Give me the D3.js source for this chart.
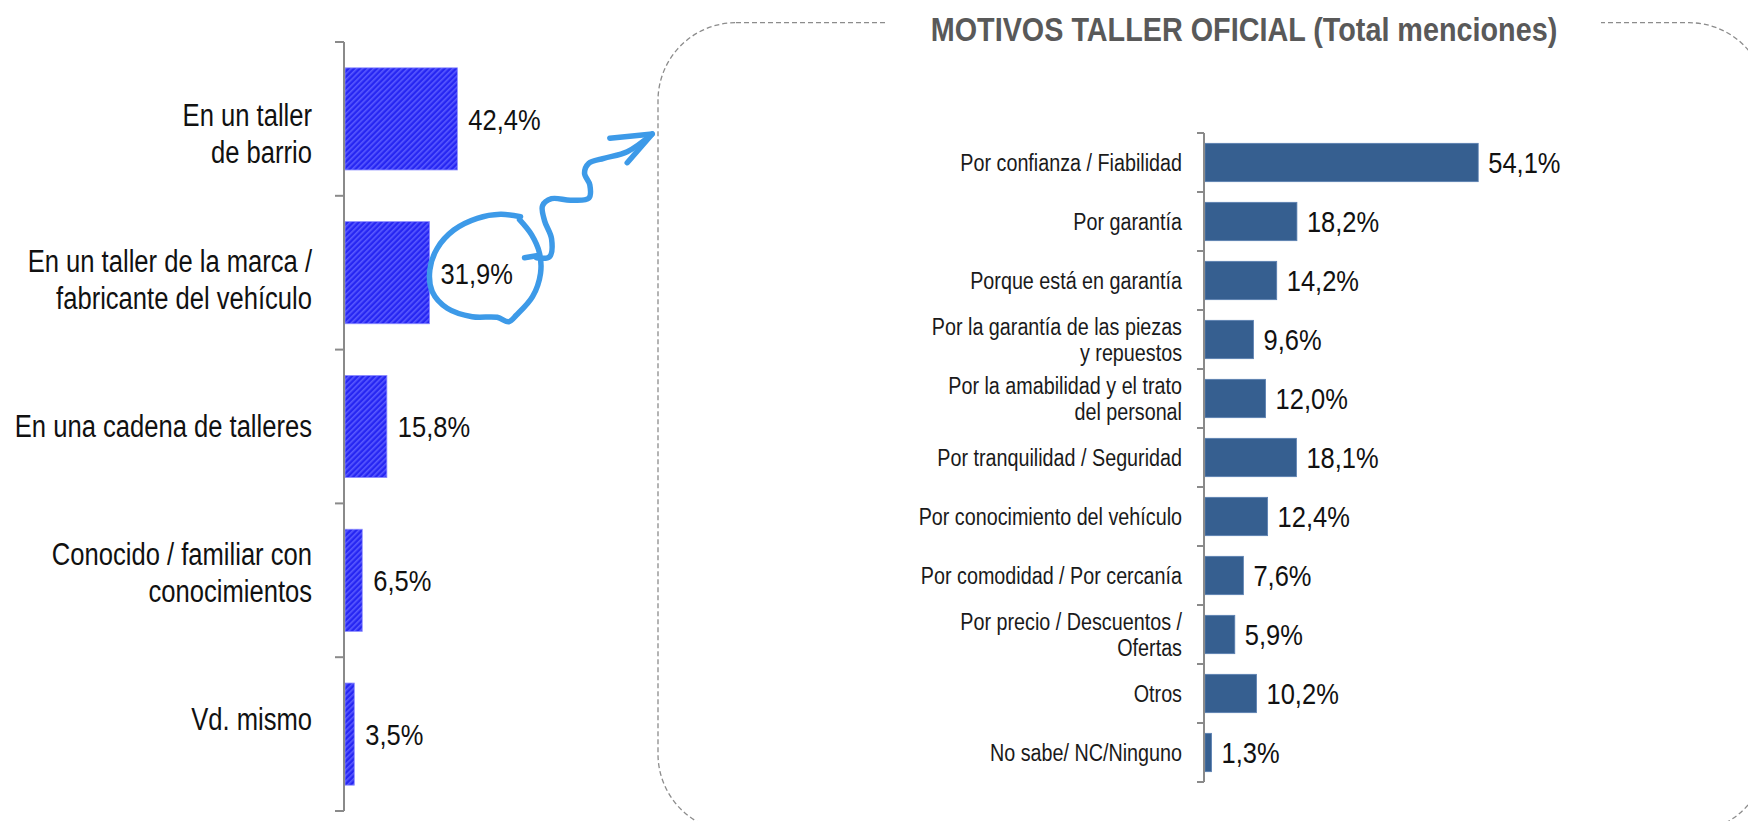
<!DOCTYPE html>
<html>
<head>
<meta charset="utf-8">
<script src="https://cdn.jsdelivr.net/npm/d3@7"></script>
<style>
  html, body { margin: 0; padding: 0; background: #ffffff; }
  svg { display: block; }
  text { font-family: "Liberation Sans Narrow", "Arial Narrow", "Liberation Sans", Arial, sans-serif; }
</style>
</head>
<body>
<svg id="chart" width="1748" height="821"></svg>
<script>
// ---- Where the vehicle is serviced ----
const placeCategories = [
  ["En un taller", "de barrio"],
  ["En un taller de la marca /", "fabricante del vehículo"],
  ["En una cadena de talleres"],
  ["Conocido / familiar con", "conocimientos"],
  ["Vd. mismo"]
];
const placeValues = [42.4, 31.9, 15.8, 6.5, 3.5];
const placeLabels = ["42,4%", "31,9%", "15,8%", "6,5%", "3,5%"];
const highlightedPlace = 1;

// ---- Reasons for choosing the official workshop ----
const reasonCategories = [
  ["Por confianza / Fiabilidad"],
  ["Por garantía"],
  ["Porque está en garantía"],
  ["Por la garantía de las piezas", "y repuestos"],
  ["Por la amabilidad y el trato", "del personal"],
  ["Por tranquilidad / Seguridad"],
  ["Por conocimiento del vehículo"],
  ["Por comodidad / Por cercanía"],
  ["Por precio / Descuentos /", "Ofertas"],
  ["Otros"],
  ["No sabe/ NC/Ninguno"]
];
const reasonValues = [54.1, 18.2, 14.2, 9.6, 12.0, 18.1, 12.4, 7.6, 5.9, 10.2, 1.3];
const reasonLabels = ["54,1%", "18,2%", "14,2%", "9,6%", "12,0%", "18,1%", "12,4%", "7,6%", "5,9%", "10,2%", "1,3%"];

const panelTitle = "MOTIVOS TALLER OFICIAL (Total menciones)";

const svg = d3.select("#chart");
const defs = svg.append("defs");

// Narrow look: squeeze each text run horizontally unless a true narrow face is present
const probe = document.createElement("canvas").getContext("2d");
probe.font = "40px 'Liberation Sans Narrow'";
const wNarrow = probe.measureText("MOTIVOS taller").width;
probe.font = "40px 'Liberation Sans'";
const wRegular = probe.measureText("MOTIVOS taller").width;
const hasNarrow = wNarrow < wRegular * 0.95;
function condense(sel, factor) {
  if (hasNarrow) return;
  sel.each(function () {
    const len = this.getComputedTextLength();
    d3.select(this).attr("textLength", len * factor).attr("lengthAdjust", "spacingAndGlyphs");
  });
}

// diagonal hatch used by the left-hand bars
const hatch = defs.append("pattern")
  .attr("id", "hatch")
  .attr("patternUnits", "userSpaceOnUse")
  .attr("width", 4).attr("height", 4)
  .attr("patternTransform", "rotate(45)");
hatch.append("rect").attr("width", 4).attr("height", 4).attr("fill", "#2626f2");
hatch.append("rect").attr("width", 1.6).attr("height", 4).attr("fill", "#5a5aff");

// ===================== Dashed panel with title =====================
const box = { x0: 658, y0: 22.7, x1: 1767, y1: 832, r: 78 };
const panelPath = d3.path();
panelPath.moveTo(box.x0 + box.r, box.y0);
panelPath.lineTo(box.x1 - box.r, box.y0);
panelPath.arcTo(box.x1, box.y0, box.x1, box.y0 + box.r, box.r);
panelPath.lineTo(box.x1, box.y1 - box.r);
panelPath.arcTo(box.x1, box.y1, box.x1 - box.r, box.y1, box.r);
panelPath.lineTo(box.x0 + box.r, box.y1);
panelPath.arcTo(box.x0, box.y1, box.x0, box.y1 - box.r, box.r);
panelPath.lineTo(box.x0, box.y0 + box.r);
panelPath.arcTo(box.x0, box.y0, box.x0 + box.r, box.y0, box.r);
panelPath.closePath();
svg.append("path")
  .attr("d", panelPath.toString())
  .attr("fill", "none")
  .attr("stroke", "#8c8c8c")
  .attr("stroke-width", 1.3)
  .attr("stroke-dasharray", "5,3");

// gap in the dashed border behind the title
svg.append("rect")
  .attr("x", 887).attr("y", 8).attr("width", 1601 - 887).attr("height", 34)
  .attr("fill", "#ffffff");
const title = svg.append("text")
  .attr("x", 1244).attr("y", 41)
  .attr("text-anchor", "middle")
  .attr("font-size", 34)
  .attr("font-weight", "bold")
  .attr("fill", "#595959")
  .text(panelTitle);
condense(title, 0.846);

// ===================== Left chart =====================
const L = { axisX: 344, top: 42, bottom: 811 };
const xL = d3.scaleLinear().domain([0, 100]).range([L.axisX, L.axisX + 265]);
const yL = d3.scaleBand().domain(d3.range(placeValues.length))
  .range([L.top, L.bottom]).paddingInner(0.336).paddingOuter(0.168);
// category captions sit on a slightly tighter spacing than the bars
const yLText = d3.scalePoint().domain(d3.range(placeValues.length)).range([133, 719]);

const gL = svg.append("g");

gL.selectAll("rect.bar")
  .data(placeValues)
  .join("rect")
  .attr("class", "bar")
  .attr("x", xL(0) + 1)
  .attr("y", (d, i) => yL(i))
  .attr("width", d => xL(d) - xL(0))
  .attr("height", yL.bandwidth())
  .attr("fill", "url(#hatch)")
  .attr("stroke", "#8c8cff")
  .attr("stroke-width", 0.8);

// axis line with ticks at the band boundaries
const leftBounds = d3.range(placeValues.length + 1).map(i => L.top + i * yL.step());
gL.append("line")
  .attr("x1", L.axisX).attr("x2", L.axisX)
  .attr("y1", L.top).attr("y2", L.bottom)
  .attr("stroke", "#8a8a8a").attr("stroke-width", 2);
gL.selectAll("line.tick")
  .data(leftBounds)
  .join("line")
  .attr("class", "tick")
  .attr("x1", L.axisX - 9).attr("x2", L.axisX)
  .attr("y1", d => d).attr("y2", d => d)
  .attr("stroke", "#8a8a8a").attr("stroke-width", 2);

const valL = gL.selectAll("text.val")
  .data(placeValues)
  .join("text")
  .attr("class", "val")
  .attr("x", d => xL(d) + 12)
  .attr("y", (d, i) => yL(i) + yL.bandwidth() / 2)
  .attr("dy", "0.36em")
  .attr("font-size", 30)
  .attr("fill", "#111")
  .text((d, i) => placeLabels[i]);
condense(valL, 0.85);

const leftLines = placeCategories.flatMap((lines, i) =>
  lines.map((s, k) => ({ s, i, k, n: lines.length })));
const catL = gL.selectAll("text.cat")
  .data(leftLines)
  .join("text")
  .attr("class", "cat")
  .attr("text-anchor", "end")
  .attr("font-size", 31)
  .attr("fill", "#111")
  .attr("x", 312)
  .attr("y", d => yLText(d.i) + (d.k - (d.n - 1) / 2) * 37)
  .attr("dy", "0.36em")
  .text(d => d.s);
condense(catL, 0.825);

// ===================== Right chart =====================
const R = { axisX: 1204, top: 133, bottom: 782 };
const xR = d3.scaleLinear().domain([0, 100]).range([R.axisX, R.axisX + 505]);
const yR = d3.scaleBand().domain(d3.range(reasonValues.length))
  .range([R.top, R.bottom]).paddingInner(0.35).paddingOuter(0.175);

const gR = svg.append("g");

gR.selectAll("rect.bar")
  .data(reasonValues)
  .join("rect")
  .attr("class", "bar")
  .attr("x", xR(0) + 1)
  .attr("y", (d, i) => yR(i))
  .attr("width", d => xR(d) - xR(0))
  .attr("height", yR.bandwidth())
  .attr("fill", "#365f90")
  .attr("stroke", "#5b80b2")
  .attr("stroke-width", 0.8);

const rightBounds = d3.range(reasonValues.length + 1).map(i => R.top + i * yR.step());
gR.append("line")
  .attr("x1", R.axisX).attr("x2", R.axisX)
  .attr("y1", R.top).attr("y2", R.bottom)
  .attr("stroke", "#8a8a8a").attr("stroke-width", 2);
gR.selectAll("line.tick")
  .data(rightBounds)
  .join("line")
  .attr("class", "tick")
  .attr("x1", R.axisX - 7).attr("x2", R.axisX)
  .attr("y1", d => d).attr("y2", d => d)
  .attr("stroke", "#8a8a8a").attr("stroke-width", 2);

const valR = gR.selectAll("text.val")
  .data(reasonValues)
  .join("text")
  .attr("class", "val")
  .attr("x", d => xR(d) + 11)
  .attr("y", (d, i) => yR(i) + yR.bandwidth() / 2)
  .attr("dy", "0.36em")
  .attr("font-size", 30)
  .attr("fill", "#111")
  .text((d, i) => reasonLabels[i]);
condense(valR, 0.85);

const rightLines = reasonCategories.flatMap((lines, i) =>
  lines.map((s, k) => ({ s, i, k, n: lines.length })));
const catR = gR.selectAll("text.cat")
  .data(rightLines)
  .join("text")
  .attr("class", "cat")
  .attr("text-anchor", "end")
  .attr("font-size", 23.5)
  .attr("fill", "#1a1a1a")
  .attr("x", 1182)
  .attr("y", d => yR(d.i) + yR.bandwidth() / 2 + (d.k - (d.n - 1) / 2) * 25.5)
  .attr("dy", "0.36em")
  .text(d => d.s);
condense(catR, 0.84);

// ===================== Hand-drawn highlight =====================
// offsets in px from the start of the highlighted value label
const loopPts = [
  [80.0, -56.0], [60.0, -58.4], [36.7, -54.4], [13.3, -42.7], [-3.3, -24.4],
  [-10.7, -2.7], [-8.3, 19.0], [6.7, 35.6], [31.7, 44.0], [56.7, 44.6],
  [68.3, 49.0], [76.0, 42.3], [92.0, 24.0], [100.0, 0.6], [99.0, -19.4],
  [91.0, -38.0], [79.0, -53.0]
];
const hookPts = [[84.0, -15.0], [96.0, -17.0]];
const squigglePts = [
  [96.0, -15.0], [109.0, -16.0], [111.0, -34.0], [104.0, -52.0], [102.0, -67.0],
  [111.0, -74.0], [130.0, -72.5], [148.3, -74.5], [149.3, -87.7], [144.0, -99.4],
  [148.3, -109.4], [163.3, -114.4], [186.7, -121.0], [211.7, -138.7]
];
const arrowPts = [[169.3, -134.4], [211.7, -138.7], [186.7, -110.0]];

const ax = xL(placeValues[highlightedPlace]) + 12;
const ay = yL(highlightedPlace) + yL.bandwidth() / 2;
const gA = svg.append("g").attr("transform", `translate(${ax},${ay})`)
  .attr("fill", "none").attr("stroke", "#3d9ae8")
  .attr("stroke-width", 5.5).attr("stroke-linecap", "round").attr("stroke-linejoin", "round");
const smooth = d3.line().curve(d3.curveCatmullRom.alpha(0.5));
const straight = d3.line();
gA.append("path").attr("d", smooth(loopPts));
gA.append("path").attr("d", straight(hookPts));
gA.append("path").attr("d", smooth(squigglePts));
gA.append("path").attr("d", straight(arrowPts));
</script>
</body>
</html>
